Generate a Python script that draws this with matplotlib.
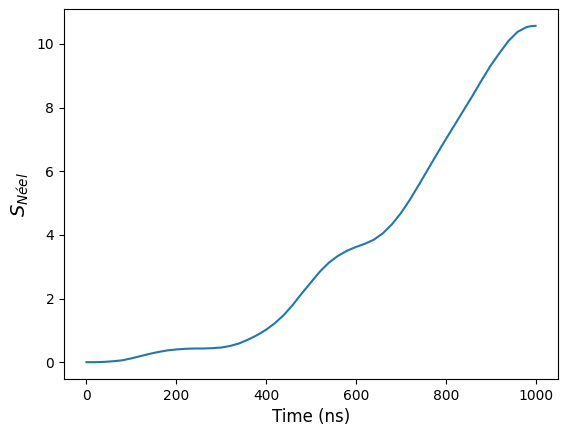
import matplotlib
matplotlib.use("Agg")
import matplotlib.pyplot as plt

time_ns = [0, 20, 40, 60, 80, 100, 120, 140, 160, 180, 200, 220, 240, 260, 280,
           300, 320, 340, 360, 380, 400, 420, 440, 460, 480, 500, 520, 540, 560,
           580, 600, 620, 640, 660, 680, 700, 720, 740, 760, 780, 800, 820, 840,
           860, 880, 900, 920, 940, 960, 980, 990, 1000]
s_neel = [0.00, 0.00, 0.01, 0.03, 0.06, 0.12, 0.19, 0.26, 0.32, 0.37, 0.40, 0.42,
          0.43, 0.43, 0.44, 0.46, 0.51, 0.59, 0.71, 0.85, 1.02, 1.23, 1.49, 1.81,
          2.17, 2.51, 2.85, 3.13, 3.34, 3.50, 3.62, 3.72, 3.85, 4.05, 4.33, 4.68,
          5.10, 5.57, 6.05, 6.53, 7.00, 7.46, 7.92, 8.38, 8.86, 9.32, 9.72, 10.10,
          10.38, 10.53, 10.56, 10.57]

fig = plt.figure(figsize=(5.7, 4.36), dpi=100)
ax = fig.add_axes([64/570, 57/436, 494/570, 370/436])
ax.plot(time_ns, s_neel, color="#1f77b4", linewidth=1.5)
ax.set_xlabel("Time (ns)", fontsize=12)
ax.set_ylabel(r"$S_{Néel}$", fontsize=14)
fig.savefig("out.png", dpi=100)
